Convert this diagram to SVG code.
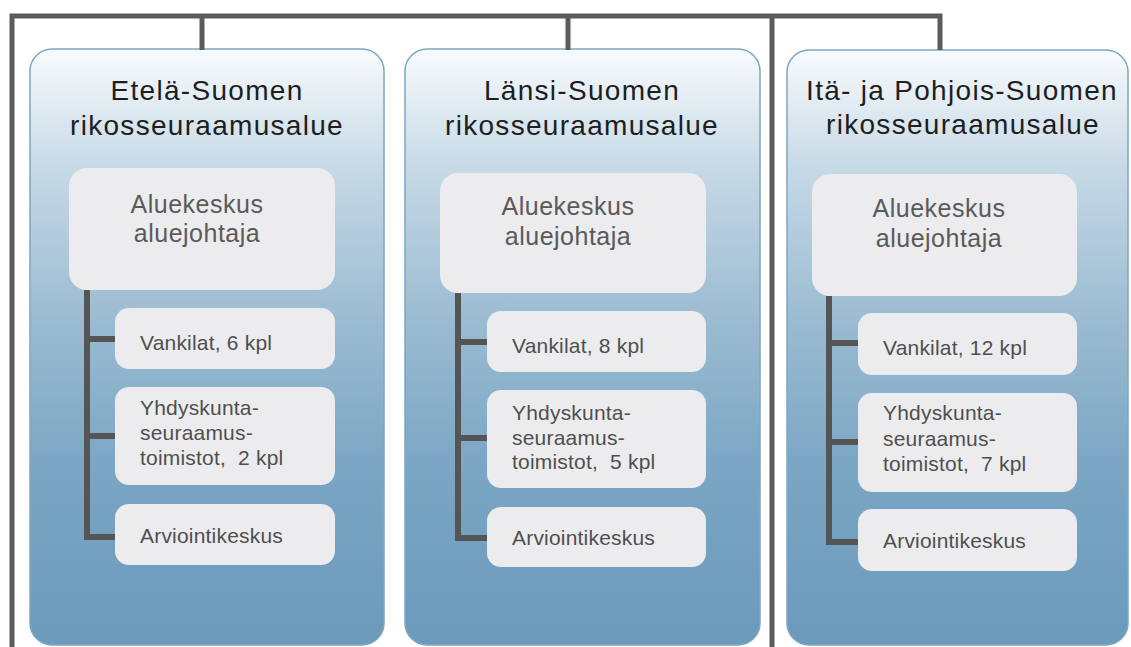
<svg xmlns="http://www.w3.org/2000/svg" width="1131" height="647" viewBox="0 0 1131 647">
<defs>
<linearGradient id="bg" x1="0" y1="0" x2="0" y2="1">
<stop offset="0" stop-color="#f8fbfd"/>
<stop offset="0.2" stop-color="#c6d9e6"/>
<stop offset="0.45" stop-color="#9bbcd2"/>
<stop offset="0.7" stop-color="#7ba6c4"/>
<stop offset="1" stop-color="#6b9abb"/>
</linearGradient>
<style>
.region{fill:url(#bg);stroke:#7fa6c0;stroke-width:1.5}
.inner{fill:#ececee}
.title{font-family:"Liberation Sans",Arial,sans-serif;font-size:28px;letter-spacing:1.3px;fill:#1e1e1e;text-anchor:middle}
.head{font-family:"Liberation Sans",Arial,sans-serif;font-size:25px;letter-spacing:0.5px;fill:#5a5a5a;text-anchor:middle}
.item{font-family:"Liberation Sans",Arial,sans-serif;font-size:21px;letter-spacing:0.2px;fill:#4f4f4f;white-space:pre}
.ln{stroke:#5c5c5c;stroke-width:5;fill:none}
.br{stroke:#555555;stroke-width:6;fill:none}
</style>
</defs>
<rect width="1131" height="647" fill="#ffffff"/>
<g id="region-etela">
<rect class="region" x="30" y="49" width="354" height="596" rx="22"/>
<text class="title" x="207" y="100">Etelä-Suomen</text>
<text class="title" x="207" y="135">rikosseuraamusalue</text>
</g>
<g id="region-lansi">
<rect class="region" x="405" y="49" width="355" height="596" rx="22"/>
<text class="title" x="582" y="100">Länsi-Suomen</text>
<text class="title" x="582" y="135">rikosseuraamusalue</text>
</g>
<g id="region-ita">
<rect class="region" x="787" y="50" width="341" height="595" rx="22"/>
<text class="title" x="962" y="100">Itä- ja Pohjois-Suomen</text>
<text class="title" x="963" y="134">rikosseuraamusalue</text>
</g>
<g id="connectors">
<path class="ln" d="M12 647 V16 H940 V50"/>
<path class="ln" d="M202 16 V50"/>
<path class="ln" d="M568 16 V50"/>
<path class="ln" d="M772 16 V647"/>
<path class="br" d="M87 290 V537 H116 M87 339 H116 M87 436 H116"/>
<path class="br" d="M458 293 V538 H488 M458 342 H488 M458 438 H488"/>
<path class="br" d="M829 296 V542 H859 M829 343 H859 M829 442 H859"/>
</g>
<g id="etela-aluekeskus">
<rect class="inner" x="69" y="168" width="266" height="122" rx="18"/>
<text class="head" x="197" y="213">Aluekeskus</text>
<text class="head" x="197" y="242">aluejohtaja</text>
</g>
<g id="etela-vankilat">
<rect class="inner" x="115" y="308" width="220" height="61" rx="14"/>
<text class="item" x="140" y="350">Vankilat, 6 kpl</text>
</g>
<g id="etela-yhdyskunta">
<rect class="inner" x="115" y="387" width="220" height="98" rx="14"/>
<text class="item" x="140" y="415">Yhdyskunta-</text>
<text class="item" x="140" y="440">seuraamus-</text>
<text class="item" x="140" y="465">toimistot,  2 kpl</text>
</g>
<g id="etela-arviointi">
<rect class="inner" x="115" y="504" width="220" height="61" rx="14"/>
<text class="item" x="140" y="543">Arviointikeskus</text>
</g>
<g id="lansi-aluekeskus">
<rect class="inner" x="440" y="173" width="266" height="120" rx="18"/>
<text class="head" x="568" y="215">Aluekeskus</text>
<text class="head" x="568" y="245">aluejohtaja</text>
</g>
<g id="lansi-vankilat">
<rect class="inner" x="487" y="311" width="219" height="61" rx="14"/>
<text class="item" x="512" y="353">Vankilat, 8 kpl</text>
</g>
<g id="lansi-yhdyskunta">
<rect class="inner" x="487" y="390" width="219" height="98" rx="14"/>
<text class="item" x="512" y="420">Yhdyskunta-</text>
<text class="item" x="512" y="445">seuraamus-</text>
<text class="item" x="512" y="469">toimistot,  5 kpl</text>
</g>
<g id="lansi-arviointi">
<rect class="inner" x="487" y="507" width="219" height="60" rx="14"/>
<text class="item" x="512" y="545">Arviointikeskus</text>
</g>
<g id="ita-aluekeskus">
<rect class="inner" x="812" y="174" width="265" height="122" rx="18"/>
<text class="head" x="939" y="217">Aluekeskus</text>
<text class="head" x="939" y="247">aluejohtaja</text>
</g>
<g id="ita-vankilat">
<rect class="inner" x="858" y="313" width="219" height="62" rx="14"/>
<text class="item" x="883" y="355">Vankilat, 12 kpl</text>
</g>
<g id="ita-yhdyskunta">
<rect class="inner" x="858" y="393" width="219" height="99" rx="14"/>
<text class="item" x="883" y="420">Yhdyskunta-</text>
<text class="item" x="883" y="446">seuraamus-</text>
<text class="item" x="883" y="471">toimistot,  7 kpl</text>
</g>
<g id="ita-arviointi">
<rect class="inner" x="858" y="509" width="219" height="62" rx="14"/>
<text class="item" x="883" y="548">Arviointikeskus</text>
</g>
</svg>
